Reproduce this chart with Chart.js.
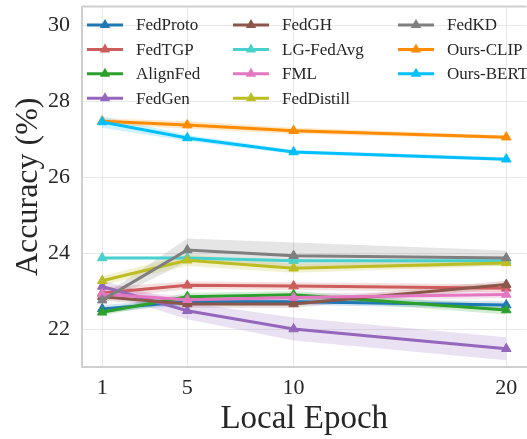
<!DOCTYPE html>
<html>
<head>
<meta charset="utf-8">
<script src="https://cdn.jsdelivr.net/npm/chart.js@4"></script>
<style>
html,body{margin:0;padding:0;background:#fff;overflow:hidden;}
#wrap{width:533px;height:439px;}
</style>
</head>
<body>
<div id="wrap"><canvas id="c" width="533" height="439"></canvas></div>
<script>
'use strict';
/* data */
const epochs = [1, 5, 10, 20];
const xTicks = [1, 5, 10, 20];
const yTicks = [22, 24, 26, 28, 30];
const methods = ['FedProto','FedTGP','AlignFed','FedGen','FedGH','LG-FedAvg','FML','FedDistill','FedKD','Ours-CLIP','Ours-BERT'];

const fedProto   = [22.53, 22.72, 22.72, 22.63];
const fedTGP     = [22.95, 23.15, 23.13, 23.07];
const alignFed   = [22.44, 22.85, 22.90, 22.50];
const fedGen     = [23.12, 22.48, 22.00, 21.48];
const fedGH      = [22.85, 22.66, 22.66, 23.17];
const lgFedAvg   = [23.87, 23.87, 23.80, 23.80];
const fml        = [22.92, 22.77, 22.83, 22.91];
const fedDistill = [23.27, 23.81, 23.60, 23.74];
const fedKD      = [22.76, 24.08, 23.93, 23.87];
const oursCLIP   = [27.47, 27.37, 27.22, 27.05];
const oursBERT   = [27.45, 27.03, 26.66, 26.47];

/* std (shaded band half-width) */
const fedProtoStd   = [0.10, 0.08, 0.08, 0.10];
const fedTGPStd     = [0.15, 0.10, 0.10, 0.10];
const alignFedStd   = [0.08, 0.10, 0.10, 0.12];
const fedGenStd     = [0.15, 0.22, 0.30, 0.30];
const fedGHStd      = [0.10, 0.10, 0.10, 0.10];
const lgFedAvgStd   = [0.03, 0.03, 0.03, 0.03];
const fmlStd        = [0.10, 0.10, 0.10, 0.10];
const fedDistillStd = [0.12, 0.15, 0.12, 0.08];
const fedKDStd      = [0.10, 0.30, 0.35, 0.20];
const oursCLIPStd   = [0.08, 0.10, 0.08, 0.05];
const oursBERTStd   = [0.15, 0.08, 0.05, 0.05];

const series = [fedProto, fedTGP, alignFed, fedGen, fedGH, lgFedAvg, fml, fedDistill, fedKD, oursCLIP, oursBERT];
const stds   = [fedProtoStd, fedTGPStd, alignFedStd, fedGenStd, fedGHStd, lgFedAvgStd, fmlStd, fedDistillStd, fedKDStd, oursCLIPStd, oursBERTStd];
const COLORS = ['#1f77b4','#cd5c5c','#2ca02c','#9467bd','#8c564b','#48d1cc','#e377c2','#bcbd22','#7f7f7f','#ff8c00','#00bfff'];

const FONT = "'Liberation Serif', 'DejaVu Serif', serif";
const TXT = '#262626';

function rgba(hex, a) {
  const n = parseInt(hex.slice(1), 16);
  return `rgba(${n>>16&255},${n>>8&255},${n&255},${a})`;
}
const pts = vals => epochs.map((x,i) => ({ x, y: vals[i] }));

const datasets = [];
// bands first (drawn behind everything)
series.forEach((vals, k) => {
  const lo = vals.map((v,i) => v - stds[k][i]);
  const hi = vals.map((v,i) => v + stds[k][i]);
  const loIdx = datasets.length;
  datasets.push({ data: pts(lo), borderWidth: 0, pointRadius: 0, fill: false, order: 200 });
  datasets.push({ data: pts(hi), borderWidth: 0, pointRadius: 0, fill: { target: loIdx },
                  backgroundColor: rgba(COLORS[k], 0.2), order: 200 });
});
series.forEach((vals, k) => {
  datasets.push({
    label: methods[k], data: pts(vals),
    borderColor: COLORS[k], backgroundColor: COLORS[k],
    borderWidth: 3, tension: 0, fill: false,
    pointStyle: 'triangle', pointRadius: 5.5, pointBorderWidth: 1,
    pointBackgroundColor: COLORS[k], pointBorderColor: COLORS[k],
    order: 100 - k
  });
});

const frame = {
  id: 'frame',
  afterDraw(c) {
    const { ctx, chartArea: a } = c;
    ctx.save();
    ctx.strokeStyle = '#cfcfcf'; ctx.lineWidth = 2;
    ctx.beginPath(); ctx.moveTo(a.left, a.top); ctx.lineTo(a.right, a.top); ctx.stroke();
    ctx.restore();
  }
};

// matplotlib-style legend, 3 columns filled column-wise
const legend3 = {
  id: 'legend3',
  afterDraw(c) {
    const ctx = c.ctx;
    const colX = [87, 233, 398], rowY = [25, 49.4, 73.8, 98.2], perCol = 4;
    ctx.save();
    ctx.font = `17px ${FONT}`; ctx.textBaseline = 'middle';
    methods.forEach((m, k) => {
      const x = colX[Math.floor(k / perCol)], y = rowY[k % perCol];
      ctx.strokeStyle = COLORS[k]; ctx.lineWidth = 3;
      ctx.beginPath(); ctx.moveTo(x, y); ctx.lineTo(x + 36, y); ctx.stroke();
      const r = 6, cx = x + 18;
      ctx.fillStyle = COLORS[k];
      ctx.beginPath();
      ctx.moveTo(cx, y - r); ctx.lineTo(cx + r*0.866, y + r*0.5); ctx.lineTo(cx - r*0.866, y + r*0.5);
      ctx.closePath(); ctx.fill();
      ctx.fillStyle = TXT;
      ctx.fillText(m, x + 49, y + 1);
    });
    ctx.restore();
  }
};

new Chart(document.getElementById('c'), {
  type: 'line',
  data: { datasets },
  plugins: [frame, legend3],
  options: {
    responsive: false, animation: false, devicePixelRatio: 1,
    layout: { padding: { top: 4, right: 1, left: 0, bottom: 0 } },
    plugins: { legend: { display: false }, tooltip: { enabled: false } },
    scales: {
      x: {
        type: 'linear', min: 0.05, max: 20.95,
        afterBuildTicks: s => { s.ticks = xTicks.map(v => ({ value: v })); },
        afterFit: s => { s.height = 72; s.paddingLeft = 0; s.paddingRight = 0; },
        ticks: { font: { family: FONT, size: 22 }, color: TXT, padding: 8 },
        grid: { color: '#e8e8e8', lineWidth: 1, drawTicks: false },
        border: { color: '#cfcfcf', width: 2 },
        title: { display: true, text: 'Local Epoch', font: { family: FONT, size: 33 }, color: TXT, padding: { top: 0, bottom: 0 } }
      },
      y: {
        min: 21.0, max: 30.49,
        afterBuildTicks: s => { s.ticks = yTicks.map(v => ({ value: v })); },
        afterFit: s => { s.width = 82; s.paddingTop = 0; s.paddingBottom = 0; },
        ticks: { font: { family: FONT, size: 22 }, color: TXT, padding: 12 },
        grid: { color: '#e8e8e8', lineWidth: 1, drawTicks: false },
        border: { color: '#cfcfcf', width: 2 },
        title: { display: true, text: 'Accuracy (%)', font: { family: FONT, size: 32 }, color: TXT, padding: { top: 9, bottom: 0 } }
      }
    }
  }
});
</script>
</body>
</html>
